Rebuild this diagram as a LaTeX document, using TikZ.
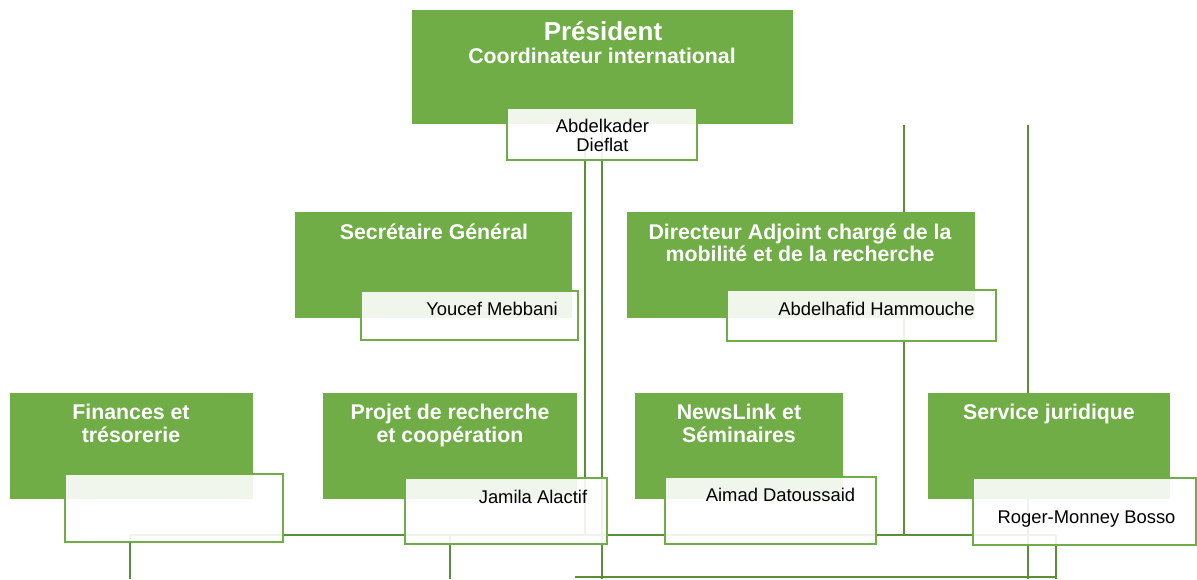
\documentclass[tikz,border=0pt]{standalone}
\usepackage{fontspec}
\setmainfont{Liberation Sans}
\definecolor{boxgreen}{HTML}{70AD47}
\definecolor{linegreen}{RGB}{90,143,56}
\begin{document}
\begin{tikzpicture}[x=1pt,y=-1pt,
  conn/.style={draw=linegreen,line width=2.6pt},
  greenbox/.style={fill=boxgreen,draw=none,inner sep=0pt,outer sep=0pt,anchor=north west},
  namebox/.style={fill=white,fill opacity=0.9,draw=boxgreen,line width=2.2pt,inner sep=0pt,outer sep=0pt,anchor=north west},
  titletext/.style={text=white,font=\fontsize{21.3}{24}\selectfont\bfseries,anchor=base,inner sep=0pt},
  bigtitle/.style={text=white,font=\fontsize{26}{30}\selectfont\bfseries,anchor=base,inner sep=0pt},
  nametext/.style={text=black,font=\fontsize{18.4}{20}\selectfont,anchor=base,inner sep=0pt}]
\useasboundingbox (0,0) rectangle (1197,579);

% connector coordinates
\coordinate (a1) at (585,124);  \coordinate (a2) at (585,535);
\coordinate (b1) at (602,124);  \coordinate (b2) at (602,579);
\coordinate (c1) at (904,125);  \coordinate (c2) at (904,535);
\coordinate (d1) at (1028,125); \coordinate (d2) at (1028,579);
\coordinate (h1) at (130,535);  \coordinate (h2) at (1056,535);
\coordinate (v1) at (130,579);
\coordinate (w1) at (450,535);  \coordinate (w2) at (450,579);
\coordinate (e2) at (1056,579);
\coordinate (g1) at (575,577);  \coordinate (g2) at (1057,577);

\draw[conn] (a1) -- (a2);
\draw[conn] (b1) -- (b2);
\draw[conn] (c1) -- (c2);
\draw[conn] (d1) -- (d2);
\draw[conn] (h1) -- (h2);
\draw[conn] (h1) -- (v1);
\draw[conn] (w1) -- (w2);
\draw[conn] (h2) -- (e2);
\draw[conn] (g1) -- (g2);

% green boxes
\node[greenbox,minimum width=381pt,minimum height=114pt] (pres) at (412,10) {};
\node[greenbox,minimum width=277pt,minimum height=106pt] (sec) at (295,212) {};
\node[greenbox,minimum width=348pt,minimum height=106pt] (dir) at (627,212) {};
\node[greenbox,minimum width=243pt,minimum height=106pt] (fin) at (10,393) {};
\node[greenbox,minimum width=254pt,minimum height=106pt] (proj) at (323,393) {};
\node[greenbox,minimum width=208pt,minimum height=106pt] (news) at (635,393) {};
\node[greenbox,minimum width=242pt,minimum height=106pt] (serv) at (928,393) {};

% name boxes
\node[namebox,minimum width=190pt,minimum height=52pt] (dief) at (507,108) {};
\node[namebox,minimum width=217pt,minimum height=49pt] (youc) at (361,291) {};
\node[namebox,minimum width=269pt,minimum height=51pt] (hamm) at (727,290) {};
\node[namebox,minimum width=218pt,minimum height=68pt] (finw) at (65,474) {};
\node[namebox,minimum width=202pt,minimum height=66pt] (jam) at (405,478) {};
\node[namebox,minimum width=211pt,minimum height=67pt] (aim) at (665,477) {};
\node[namebox,minimum width=223pt,minimum height=67pt] (rog) at (973,478) {};

% texts
\node[bigtitle] (t1) at (603,40.5) {Président};
\node[titletext] (t2) at (602,63) {Coordinateur international};
\node[nametext] (t3) at (602.5,132) {Abdelkader};
\node[nametext] (t4) at (602.5,151) {Dieflat};
\node[titletext] (t5) at (434,239) {Secrétaire Général};
\node[titletext] (t6) at (800,239) {Directeur Adjoint chargé de la};
\node[titletext] (t7) at (800,261) {mobilité et de la recherche};
\node[nametext] (t8) at (492,315) {Youcef Mebbani};
\node[nametext] (t9) at (876.5,315) {Abdelhafid Hammouche};
\node[titletext] (t10) at (131,419) {Finances et};
\node[titletext] (t11) at (131,442) {trésorerie};
\node[titletext] (t12) at (450,419) {Projet de recherche};
\node[titletext] (t13) at (450,442) {et coopération};
\node[nametext] (t14) at (533,503) {Jamila Alactif};
\node[titletext] (t15) at (739,419) {NewsLink et};
\node[titletext] (t16) at (739,442) {Séminaires};
\node[nametext] (t17) at (780.5,501) {Aimad Datoussaid};
\node[titletext] (t18) at (1049,419) {Service juridique};
\node[nametext] (t19) at (1086.5,523) {Roger-Monney Bosso};
\end{tikzpicture}
\end{document}
